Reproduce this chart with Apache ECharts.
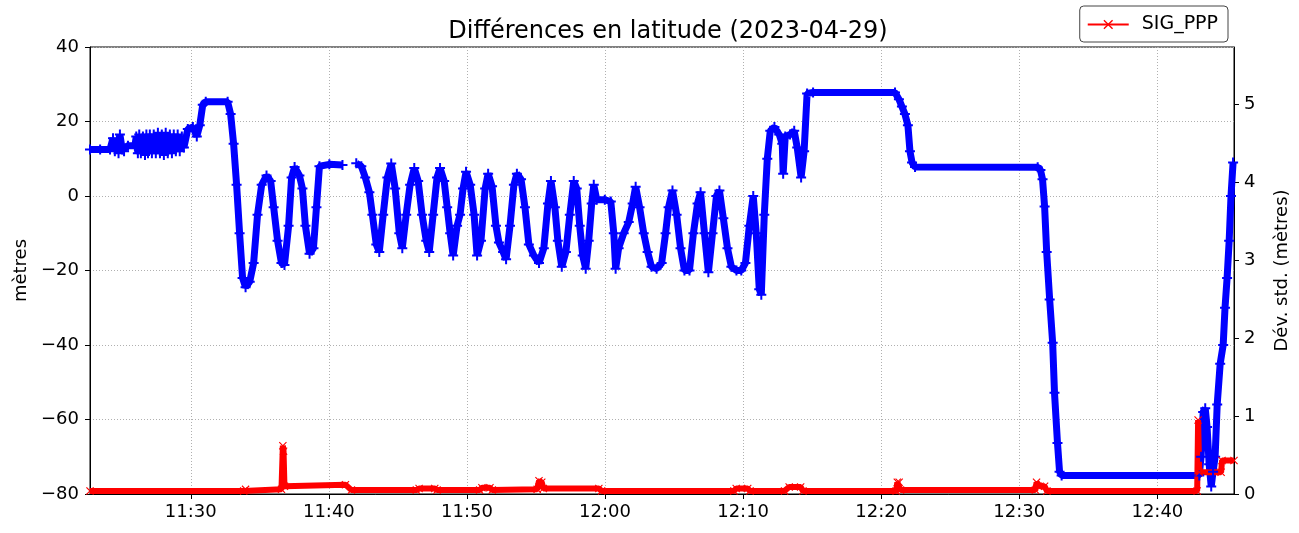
<!DOCTYPE html>
<html>
<head>
<meta charset="utf-8">
<script type="text/javascript" src="https://cdn.jsdelivr.net/npm/echarts@6/dist/echarts.min.js"></script>
</head>
<body style="margin:0;background:#fff">
<div id="container" style="width:1299px;height:533px;"></div>
<script type="text/javascript">
// latitude difference (metres), left axis
var latTimes = ['11:22:42','11:23:26','11:24:09','11:24:22','11:24:30','11:24:39','11:24:46','11:24:52','11:25:02','11:25:10','11:25:27','11:25:57',
  '11:26:03','11:26:10','11:26:16','11:26:23','11:26:32','11:26:41','11:26:47','11:26:54','11:27:02','11:27:11','11:27:19','11:27:28',
  '11:27:37','11:27:46','11:27:54','11:28:03','11:28:11','11:28:20','11:28:29','11:28:38','11:28:46',
  '11:28:55','11:29:03','11:29:12','11:29:21','11:29:30','11:29:47','11:30:09','11:30:26','11:30:39','11:30:52','11:31:05','11:32:40',
  '11:32:53','11:33:06','11:33:19','11:33:32','11:33:45','11:33:58','11:34:16','11:34:33','11:34:50','11:35:08',
  '11:35:29','11:35:47','11:36:00','11:36:17','11:36:34','11:36:47','11:37:05','11:37:18','11:37:31','11:37:52',
  '11:38:05','11:38:18','11:38:36','11:38:53','11:39:06','11:39:19','11:40:02','11:40:59','11:41:20','11:41:59',
  '11:42:21','11:42:38','11:42:56','11:43:09','11:43:26','11:43:39','11:43:56','11:44:14','11:44:31','11:44:48',
  '11:45:06','11:45:19','11:45:36','11:45:53','11:46:11','11:46:28','11:46:45','11:47:03','11:47:16','11:47:33',
  '11:47:50','11:48:03','11:48:21','11:48:34','11:48:47','11:49:00','11:49:17','11:49:30','11:49:43','11:49:56',
  '11:50:14','11:50:31','11:50:44','11:51:01','11:51:19','11:51:32','11:51:49','11:52:06','11:52:19','11:52:37',
  '11:52:50','11:53:07','11:53:24','11:53:37','11:53:55','11:54:12','11:54:29','11:54:51','11:55:13','11:55:34',
  '11:55:52','11:56:05','11:56:22','11:56:35','11:56:52','11:57:10','11:57:27','11:57:44','11:57:57','11:58:10',
  '11:58:23','11:58:36','11:58:49','11:59:02','11:59:11','11:59:24','11:59:59','12:00:25','12:00:38','12:00:46',
  '12:00:59','12:01:21','12:01:43','12:02:00','12:02:13','12:02:30','12:02:48','12:03:05','12:03:22','12:03:44',
  '12:04:06','12:04:23','12:04:36','12:04:53','12:05:11','12:05:28','12:05:45','12:06:07','12:06:24','12:06:42',
  '12:06:55','12:07:12','12:07:29','12:07:47','12:08:04','12:08:17','12:08:34','12:08:52','12:09:09','12:09:31',
  '12:09:52','12:10:10','12:10:27','12:10:44','12:10:57','12:11:10','12:11:19','12:11:32','12:11:45','12:11:58',
  '12:12:16','12:12:37','12:12:50','12:12:54','12:13:03','12:13:24','12:13:42','12:13:55','12:14:12','12:14:25',
  '12:14:38','12:15:04','12:21:00','12:21:17','12:21:30','12:21:43','12:21:56','12:22:05','12:22:14','12:22:27',
  '12:31:20','12:31:32','12:31:41','12:31:50','12:31:59','12:32:12','12:32:25','12:32:33','12:32:46','12:32:55',
  '12:33:04','12:43:02','12:43:10','12:43:19','12:43:28','12:43:36','12:43:45','12:43:54','12:44:02','12:44:11',
  '12:44:20','12:44:33','12:44:46','12:44:54','12:45:03','12:45:12','12:45:20','12:45:29'];
var latValues = [12.5,12.5,12.5,15.5,12,15,11.5,16.5,12.5,12,13.5,13.5,
  16,11.5,16.5,11.5,16,11,16.5,11.5,16.5,11.5,16.5,11.5,
  17,11.5,16.5,11,17,11.5,16.5,11.5,16.5,
  12,16.5,12,16,13,18,18.5,16,19,24.5,25.3,25.3,
  22,14,3,-10,-22,-24.5,-23,-18,-5,3,
  5.5,4,-3,-12,-18,-18.5,-8,5,7.8,5.5,
  2,-8,-15.5,-14,-3,8,8.5,8.3,null,8.8,
  8,5,1,-5,-13,-15,-5,5,8.7,2,
  -10,-14,-5,3,7.5,4,-5,-12,-15,-5,
  5,7.5,4,-3,-10,-16,-8,-5,2,6.5,
  3,-5,-16,-12,2,6,2.6,-8,-12.5,-15,
  -17,-8,3,6,4.5,-3,-13,-16,-18,-14,
  -2,4,-3,-12,-19,-15,-5,4,2,-8,
  -16,-19.5,-12,-2,3,-1,-1,-1.5,-10,-19.5,
  -14,-10,-7,-2,2.5,-3,-10,-15,-19,-19.5,
  -18,-10,-3,1.5,-5,-14,-20,-20,-10,-2,
  1,-10,-20.5,-10,0,1.5,-6,-14,-19,-20,
  -20,-18,-8,0,-10,-25,-26.5,-5,10,17.5,
  18.5,16.5,14,6,16,16.5,17.5,13,5,12,
  27.5,27.8,27.8,26,24,22,19,12,9,7.8,
  7.7,7,4.5,-2.8,-15,-27.8,-39.4,-52.8,-66.3,-74,
  -75,-75,-70,-58,-57,-62,-72,-78,-74,-70,
  -56,-45,-40,-30,-22,-12,0,9];

// SIG_PPP standard deviation (metres), right axis
var sigTimes = ['11:22:42','11:33:50','11:33:58','11:36:34','11:36:40','11:36:43','11:36:47','11:41:12','11:41:38',
  '11:46:20','11:46:32','11:47:40','11:47:50','11:50:55','11:51:05','11:51:40','11:51:50','11:55:05','11:55:13',
  '11:55:25','11:55:32','11:59:33','11:59:45','12:09:20','12:09:30','12:10:20','12:10:30','12:13:00','12:13:20',
  '12:14:10','12:14:20','12:21:05','12:21:10','12:21:18','12:21:24','12:31:10','12:31:15','12:31:30','12:31:50',
  '12:32:00','12:42:53','12:42:57','12:43:02','12:44:37','12:44:41','12:45:33'];
var sigValues = [0.04,0.04,0.06,0.06,0.62,0.55,0.1,0.12,0.05,
  0.05,0.07,0.07,0.05,0.05,0.08,0.08,0.05,0.06,0.17,
  0.15,0.07,0.07,0.04,0.04,0.07,0.07,0.04,0.04,0.09,
  0.09,0.04,0.04,0.15,0.15,0.05,0.05,0.15,0.1,0.1,
  0.04,0.04,0.95,0.28,0.28,0.43,0.43];

var xTicks = ['11:30','11:40','11:50','12:00','12:10','12:20','12:30','12:40'];
var xStart = '11:22:42', xEnd = '12:45:33';

function toSec(s) {
    var p = s.split(':');
    return (+p[0]) * 3600 + (+p[1]) * 60 + (p[2] ? +p[2] : 0);
}
function fmt(v) {
    var h = Math.floor(v / 3600), m = Math.round((v - h * 3600) / 60);
    return h + ':' + (m < 10 ? '0' : '') + m;
}
function pairs(times, vals) {
    var out = [];
    for (var i = 0; i < times.length; i++) {
        out.push([toSec(times[i]), vals[i] === null ? '-' : vals[i]]);
    }
    return out;
}

var plusPath = 'path://M4,0h2v4h4v2h-4v4h-2v-4h-4v-2h4z';
var crossPath = 'path://M0,1L1,0L5,4L9,0L10,1L6,5L10,9L9,10L5,6L1,10L0,9L4,5Z';
var tickVals = xTicks.map(toSec);
var font = 'DejaVu Sans';
var gridLine = {show: true, lineStyle: {color: '#b0b0b0', type: [1, 2], width: 1}};

var dom = document.getElementById("container");
var myChart = echarts.init(dom);
var option = {
    animation: false,
    backgroundColor: '#fff',
    title: {
        text: 'Différences en latitude (2023-04-29)',
        left: 663, top: 15, textAlign: 'center',
        textStyle: {fontFamily: font, fontSize: 24, fontWeight: 'normal', color: '#000'}
    },
    legend: {
        data: ['SIG_PPP'],
        right: 71, top: 6,
        padding: [9, 10, 8, 7],
        borderColor: '#444', borderWidth: 1, borderRadius: 4,
        itemWidth: 41, itemHeight: 12,
        textStyle: {fontFamily: font, fontSize: 19, color: '#000', padding: [0, 0, 0, 8]}
    },
    grid: {
        left: 90, right: 62, top: 47, bottom: 39,
        show: true, borderColor: '#000', borderWidth: 1, backgroundColor: '#fff'
    },
    xAxis: {
        type: 'value',
        min: toSec(xStart), max: toSec(xEnd),
        axisLine: {onZero: false, lineStyle: {color: '#000'}},
        axisTick: {customValues: tickVals, length: 5, lineStyle: {color: '#000'}},
        axisLabel: {customValues: tickVals, formatter: fmt, fontFamily: font, fontSize: 18, color: '#000', margin: 9},
        splitLine: gridLine
    },
    yAxis: [{
        type: 'value', min: -80, max: 40, interval: 20,
        name: 'mètres', nameLocation: 'middle', nameGap: 60, nameRotate: 90,
        nameTextStyle: {fontFamily: font, fontSize: 18, color: '#000'},
        axisLine: {show: true, onZero: false, lineStyle: {color: '#000'}},
        axisTick: {show: true, length: 5, lineStyle: {color: '#000'}},
        axisLabel: {fontFamily: font, fontSize: 18, color: '#000', margin: 11,
            formatter: function (v) { return v < 0 ? '\u2212' + (-v) : '' + v; }},
        splitLine: gridLine
    }, {
        type: 'value', min: 0, max: 5.74, interval: 1, position: 'right',
        name: 'Dév. std. (mètres)', nameLocation: 'middle', nameGap: 39, nameRotate: 90,
        nameTextStyle: {fontFamily: font, fontSize: 18, color: '#000'},
        axisLine: {show: true, onZero: false, lineStyle: {color: '#000'}},
        axisTick: {show: true, length: 5, lineStyle: {color: '#000'}},
        axisLabel: {fontFamily: font, fontSize: 18, color: '#000', margin: 10, showMaxLabel: false},
        splitLine: {show: false}
    }],
    series: [{
        name: 'lat',
        type: 'line',
        yAxisIndex: 0,
        data: pairs(latTimes, latValues),
        showAllSymbol: true,
        symbol: plusPath, symbolSize: 10,
        itemStyle: {color: '#0000ff'},
        lineStyle: {color: '#0000ff', width: 7},
        connectNulls: false
    }, {
        name: 'SIG_PPP',
        type: 'line',
        yAxisIndex: 1,
        data: pairs(sigTimes, sigValues),
        showAllSymbol: true,
        symbol: crossPath, symbolSize: 8,
        itemStyle: {color: '#ff0000'},
        lineStyle: {color: '#ff0000', width: 6}
    }]
};
myChart.setOption(option);
</script>
</body>
</html>
